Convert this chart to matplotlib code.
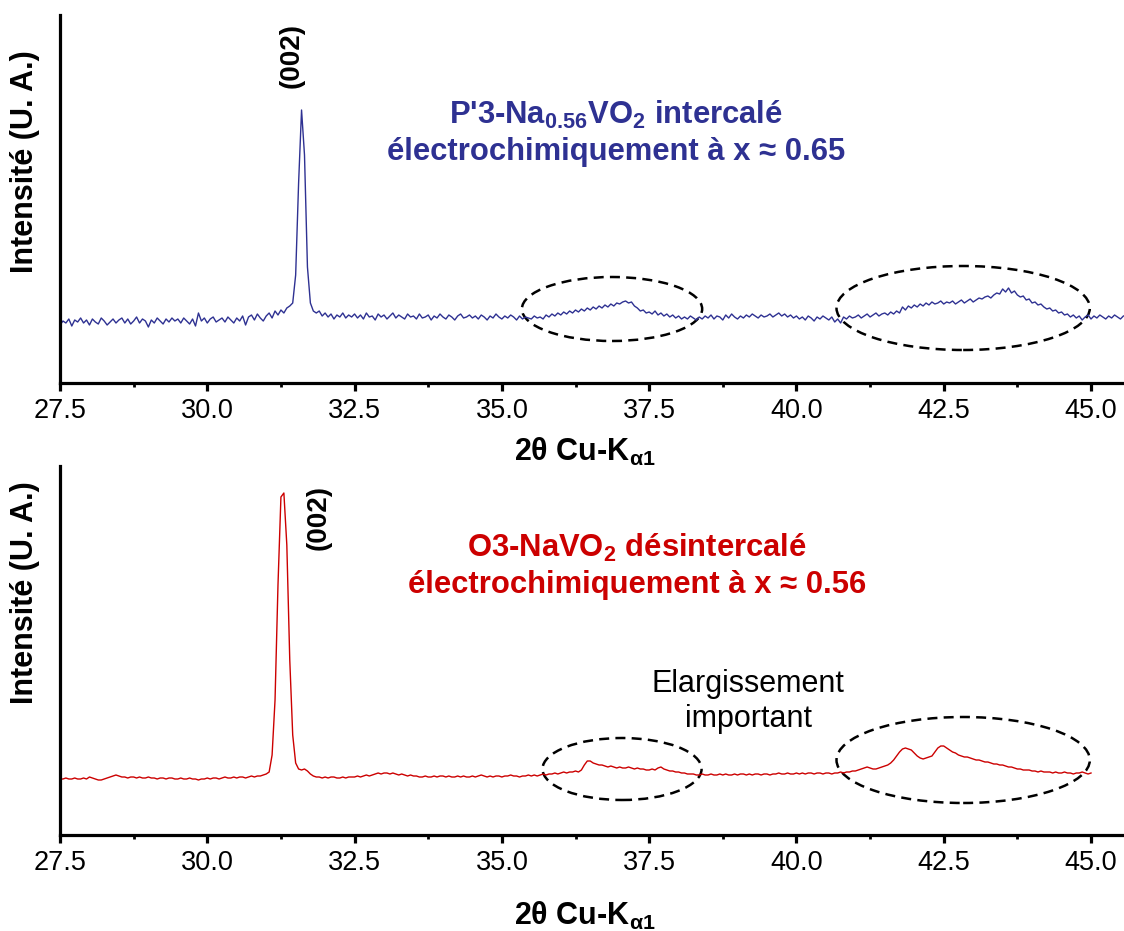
import numpy as np
import matplotlib

matplotlib.use("Agg")
import matplotlib.pyplot as plt
from matplotlib.patches import Ellipse

# 2theta grid of the scans (0.05 deg steps), intensities (arb. units)
TT_START = 27.5
TT_STEP = 0.05

# P'3-Na0.56VO2 intercalated, 27.50 -> 45.55
top_intensity = [
    58, 62, 60, 64, 57, 63, 61, 65, 60, 63, 58, 64, 61, 59, 65, 62, 58, 61, 64, 60,
    63, 65, 60, 64, 59, 62, 66, 60, 64, 62, 56, 63, 60, 65, 62, 59, 64, 61, 65, 62,
    64, 60, 65, 62, 59, 64, 57, 70, 62, 65, 60, 64, 66, 61, 63, 65, 61, 66, 63, 60,
    65, 62, 67, 58, 66, 68, 63, 69, 65, 62, 67, 70, 65, 72, 68, 73, 70, 75, 77, 80,
    108, 200, 273, 228, 116, 80, 72, 70, 72, 67, 70, 66, 69, 64, 68, 66, 70, 65, 68, 66,
    69, 65, 68, 64, 70, 66, 67, 63, 69, 66, 68, 64, 67, 70, 65, 68, 66, 64, 69, 66,
    67, 64, 69, 65, 66, 68, 63, 67, 65, 69, 66, 64, 68, 66, 63, 67, 69, 65, 66, 68,
    65, 67, 64, 68, 66, 63, 67, 65, 69, 66, 64, 67, 65, 68, 66, 63, 67, 64, 66, 65,
    64, 67, 65, 66, 64, 68, 66, 69, 67, 70, 68, 71, 69, 72, 70, 73, 71, 74, 72, 75,
    73, 76, 74, 77, 75, 78, 76, 79, 77, 80, 79, 81, 82, 80, 81, 77, 75, 72, 73, 70,
    71, 69, 72, 68, 70, 67, 69, 66, 68, 65, 67, 64, 66, 64, 67, 65, 63, 66, 64, 67,
    65, 68, 64, 67, 66, 63, 68, 65, 69, 66, 64, 67, 65, 68, 66, 69, 67, 65, 68, 66,
    67, 69, 66, 68, 70, 67, 69, 66, 68, 65, 67, 64, 66, 63, 67, 65, 62, 66, 64, 67,
    65, 63, 66, 61, 64, 60, 66, 64, 67, 65, 66, 68, 65, 67, 69, 66, 68, 70, 67, 69,
    70, 68, 71, 69, 72, 70, 76, 73, 77, 75, 78, 76, 79, 77, 80, 78, 81, 79, 80, 82,
    79, 81, 80, 82, 79, 81, 83, 80, 82, 84, 81, 83, 85, 84, 86, 87, 85, 88, 90, 89,
    94, 91, 95, 90, 92, 88, 86, 87, 83, 84, 80, 81, 78, 79, 76, 74, 75, 72, 73, 70,
    71, 68, 69, 66, 68, 65, 67, 63, 66, 68, 64, 67, 65, 68, 66, 64, 67, 65, 68, 66,
    64, 67,
]

# O3-NaVO2 deintercalated, 27.50 -> 45.00
bottom_intensity = [
    56, 56, 57, 56, 56, 57, 56, 56, 57, 56, 58, 57, 56, 55, 55, 56, 57, 58, 59, 60,
    59, 58, 58, 57, 58, 58, 57, 58, 57, 57, 58, 57, 57, 56, 57, 57, 56, 57, 57, 56,
    56, 57, 56, 56, 57, 56, 56, 55, 56, 56, 57, 56, 57, 57, 56, 57, 58, 57, 57, 58,
    57, 58, 58, 57, 58, 59, 58, 59, 59, 60, 61, 63, 80, 135, 250, 338, 342, 290, 175, 100,
    72, 66, 65, 66, 64, 61, 59, 58, 58, 57, 58, 57, 58, 58, 57, 57, 58, 57, 58, 58,
    58, 59, 58, 59, 60, 59, 60, 61, 62, 61, 62, 62, 61, 62, 61, 60, 61, 60, 59, 60,
    59, 59, 58, 58, 59, 58, 58, 59, 58, 59, 59, 58, 59, 58, 58, 59, 58, 59, 58, 58,
    59, 58, 59, 60, 59, 58, 59, 58, 59, 59, 58, 59, 59, 60, 59, 59, 58, 59, 59, 60,
    59, 60, 59, 60, 61, 60, 61, 61, 62, 61, 62, 63, 62, 63, 63, 64, 63, 65, 70, 74,
    74, 72, 71, 70, 70, 69, 68, 69, 68, 67, 68, 67, 67, 68, 67, 66, 67, 66, 66, 65,
    65, 66, 65, 67, 68, 66, 65, 64, 64, 63, 63, 62, 62, 61, 61, 61, 60, 60, 61, 60,
    60, 61, 60, 60, 61, 60, 61, 60, 60, 61, 60, 61, 61, 60, 61, 60, 61, 61, 60, 61,
    61, 60, 61, 61, 62, 61, 61, 62, 61, 61, 62, 61, 62, 61, 62, 62, 61, 62, 62, 61,
    62, 62, 61, 62, 62, 63, 62, 63, 63, 64, 64, 65, 66, 67, 68, 67, 66, 66, 67, 68,
    69, 70, 72, 75, 79, 83, 86, 87, 86, 85, 82, 79, 77, 76, 77, 78, 79, 83, 87, 89,
    89, 87, 85, 83, 82, 80, 79, 78, 78, 77, 76, 75, 75, 74, 73, 73, 72, 71, 71, 70,
    70, 69, 68, 68, 67, 66, 66, 65, 65, 65, 64, 64, 63, 64, 63, 63, 63, 62, 63, 62,
    62, 63, 62, 62, 61, 62, 62, 63, 62, 61, 62,
]

top_title = ["P'3-Na$_{\\mathbf{0.56}}$VO$_{\\mathbf{2}}$ intercalé",
             "électrochimiquement à x ≈ 0.65"]
bottom_title = ["O3-NaVO$_{\\mathbf{2}}$ désintercalé",
                "électrochimiquement à x ≈ 0.56"]
note_lines = ["Elargissement", "important"]

# dashed ellipses: (centre 2theta, centre intensity, width deg, height)
top_ellipses = [(36.87, 74, 3.06, 64), (42.83, 75, 4.30, 84)]
bottom_ellipses = [(37.04, 66, 2.70, 62), (42.83, 75, 4.30, 86)]

BLUE = "#2e3192"
RED = "#cc0000"

plt.rcParams["font.family"] = ["Liberation Sans", "DejaVu Sans"]
plt.rcParams["mathtext.fontset"] = "custom"
plt.rcParams["mathtext.rm"] = "Liberation Sans"
plt.rcParams["mathtext.bf"] = "Liberation Sans:bold"
plt.rcParams["mathtext.it"] = "Liberation Sans:italic"


def style_axis(ax, ymax):
    ax.set_xlim(27.5, 45.56)
    ax.set_ylim(0, ymax)
    for side in ["top", "right"]:
        ax.spines[side].set_visible(False)
    for side in ["left", "bottom"]:
        ax.spines[side].set_linewidth(2.3)
    ax.set_yticks([])
    ax.set_xticks(np.arange(27.5, 45.1, 2.5))
    ax.set_xticks(np.arange(28.75, 45.5, 2.5), minor=True)
    ax.xaxis.set_major_formatter(matplotlib.ticker.FormatStrFormatter("%.1f"))
    ax.tick_params(axis="x", which="major", direction="out", length=6, width=2.3,
                   labelsize=19.5, pad=5)
    ax.tick_params(axis="x", which="minor", direction="out", length=3, width=2)


def draw_ellipses(ax, ellipses):
    for cx, cy, w, h in ellipses:
        ax.add_patch(Ellipse((cx, cy), w, h, fill=False, edgecolor="black", lw=1.8,
                             linestyle=(0, (4, 2.5)), clip_on=False))


def main() -> None:
    fig = plt.figure(figsize=(11.24, 9.31), dpi=100)
    ax1 = fig.add_axes([60 / 1124, 1 - 383 / 931, 1064 / 1124, 368 / 931])
    ax2 = fig.add_axes([60 / 1124, 1 - 835 / 931, 1064 / 1124, 369 / 931])

    tt_top = TT_START + TT_STEP * np.arange(len(top_intensity))
    tt_bot = TT_START + TT_STEP * np.arange(len(bottom_intensity))

    ax1.plot(tt_top, top_intensity, color=BLUE, lw=1.0)
    ax2.plot(tt_bot, bottom_intensity, color=RED, lw=1.0)
    style_axis(ax1, 368)
    style_axis(ax2, 369)
    draw_ellipses(ax1, top_ellipses)
    draw_ellipses(ax2, bottom_ellipses)

    # peak labels
    ax1.text(31.44, 328, "(002)", rotation=90, ha="center", va="center",
             fontsize=20, fontweight="bold")
    ax2.text(31.89, 317, "(002)", rotation=90, ha="center", va="center",
             fontsize=20, fontweight="bold")

    # sample titles
    ax1.text(36.94, 259, top_title[0], ha="center", va="baseline", fontsize=22.3,
             fontweight="bold", color=BLUE)
    ax1.text(36.94, 223, top_title[1], ha="center", va="baseline", fontsize=22.3,
             fontweight="bold", color=BLUE)
    ax2.text(37.30, 278, bottom_title[0], ha="center", va="baseline", fontsize=22.3,
             fontweight="bold", color=RED)
    ax2.text(37.30, 242, bottom_title[1], ha="center", va="baseline", fontsize=22.3,
             fontweight="bold", color=RED)

    ax2.text(39.18, 143, note_lines[0], ha="center", va="baseline", fontsize=22)
    ax2.text(39.18, 108, note_lines[1], ha="center", va="baseline", fontsize=22)

    # axis titles
    for y in [1 - 162 / 931, 1 - 593 / 931]:
        fig.text(25 / 1124, y, "Intensité (U. A.)", rotation=90, ha="center",
                 va="center", fontsize=22, fontweight="bold")
    for y in [1 - 461 / 931, 1 - 925 / 931]:
        fig.text(585 / 1124, y, "2θ Cu-K$_{\\mathbf{α1}}$", ha="center",
                 va="baseline", fontsize=22, fontweight="bold")

    fig.savefig("out.png", dpi=100)
    plt.close(fig)


if __name__ == "__main__":
    main()
